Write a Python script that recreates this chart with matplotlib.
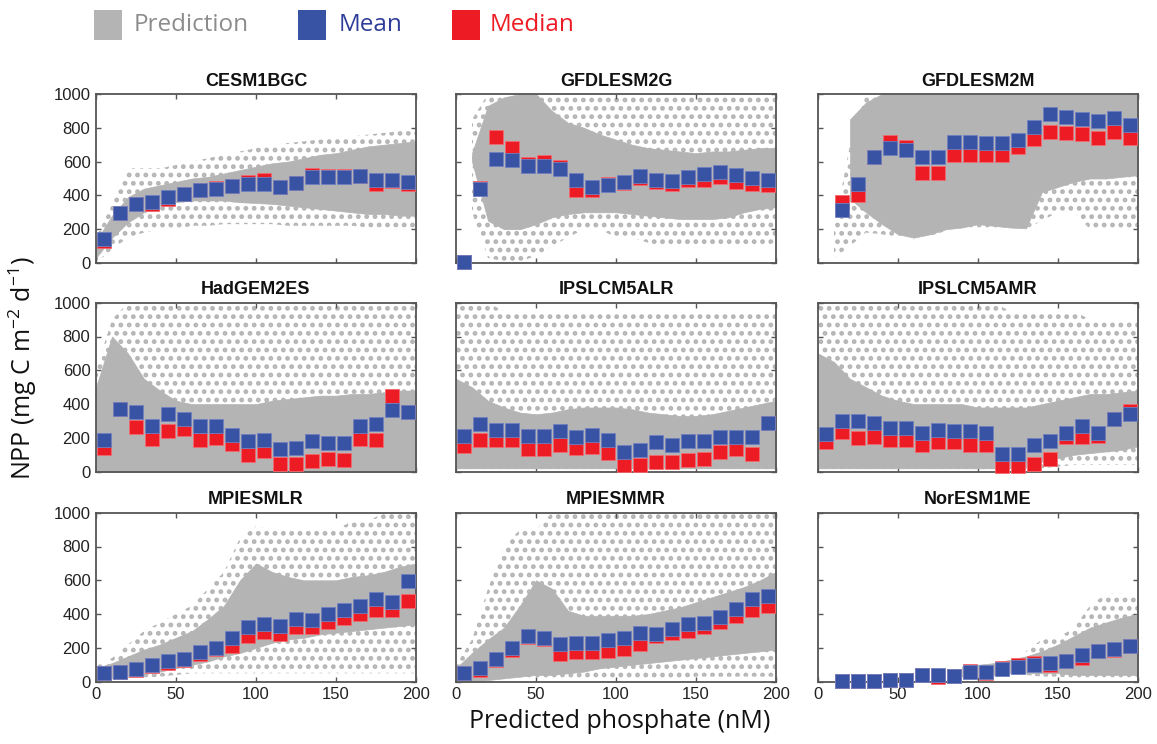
import numpy as np
import matplotlib
matplotlib.use("Agg")
import matplotlib.pyplot as plt
from matplotlib.patches import Rectangle

nan = np.nan
# ---------------- data ----------------
models = ["CESM1BGC", "GFDLESM2G", "GFDLESM2M",
          "HadGEM2ES", "IPSLCM5ALR", "IPSLCM5AMR",
          "MPIESMLR", "MPIESMMR", "NorESM1ME"]

bins20 = [5, 15, 25, 35, 45, 55, 65, 75, 85, 95, 105, 115, 125, 135, 145, 155, 165, 175, 185, 195]
bins19 = bins20[1:]
env_x = [0, 10, 20, 30, 40, 50, 60, 70, 80, 90, 100, 110, 120, 130, 140, 150, 160, 170, 180, 190, 200]

# binned mean / median NPP
CESM1BGC_mean = [140, 298, 352, 360, 391, 411, 431, 435, 455, 466, 466, 450, 474, 506, 510, 510, 514, 494, 494, 480]
CESM1BGC_median = [130, 298, 350, 348, 380, 410, 430, 445, 455, 480, 490, 450, 474, 520, 515, 515, 514, 470, 484, 470]
GFDLESM2G_mean = [5, 435, 615, 609, 575, 575, 555, 490, 450, 464, 480, 516, 490, 486, 510, 526, 540, 520, 504, 494]
GFDLESM2G_median = [5, 445, 747, 678, 585, 595, 570, 430, 430, 470, 472, 505, 480, 470, 490, 490, 510, 480, 470, 460]
GFDLESM2M_mean = [312, 470, 625, 678, 668, 625, 625, 717, 717, 708, 708, 727, 806, 881, 862, 850, 840, 860, 816]
GFDLESM2M_median = [360, 405, 625, 717, 684, 534, 534, 638, 638, 638, 638, 688, 731, 777, 767, 761, 737, 777, 737]
HadGEM2ES_mean = [186, 371, 351, 268, 341, 311, 272, 272, 218, 179, 186, 137, 143, 179, 169, 169, 272, 282, 365, 351]
HadGEM2ES_median = [143, 371, 262, 192, 242, 252, 186, 202, 163, 99, 123, 48, 48, 63, 73, 67, 192, 186, 450, 351]
IPSLCM5ALR_mean = [212, 282, 248, 248, 212, 212, 238, 208, 218, 186, 117, 127, 177, 159, 179, 179, 208, 208, 208, 290]
IPSLCM5ALR_median = [153, 188, 188, 188, 133, 133, 159, 139, 149, 113, 38, 38, 58, 58, 67, 77, 119, 133, 107, 290]
IPSLCM5AMR_mean = [226, 302, 302, 288, 258, 258, 228, 248, 238, 238, 228, 107, 107, 159, 179, 228, 272, 228, 311, 341]
IPSLCM5AMR_median = [173, 232, 198, 208, 188, 188, 157, 173, 173, 159, 157, 34, 34, 48, 77, 208, 208, 210, 311, 360]
MPIESMLR_mean = [51, 59, 78, 98, 120, 137, 173, 202, 261, 324, 343, 329, 373, 363, 398, 424, 447, 492, 473, 594]
MPIESMLR_median = [51, 59, 70, 90, 110, 130, 165, 195, 212, 271, 296, 280, 325, 324, 353, 378, 398, 427, 422, 476]
MPIESMMR_mean = [49, 80, 137, 200, 271, 261, 222, 231, 231, 247, 261, 290, 280, 310, 343, 349, 382, 431, 492, 510]
MPIESMMR_median = [49, 70, 128, 190, 262, 250, 163, 176, 176, 182, 192, 225, 270, 290, 300, 323, 353, 388, 424, 447]
NorESM1ME_mean = [5, 5, 5, 10, 10, 39, 39, 35, 55, 59, 75, 88, 100, 108, 120, 159, 182, 196, 212]
NorESM1ME_median = [5, 5, 5, 10, 10, 39, 30, 35, 63, 50, 82, 98, 110, 100, 120, 139, 182, 190, 212]

# prediction cloud envelopes (dense core, sparse outer)
CESM1BGC_core_lo = [30, 150, 240, 300, 340, 360, 370, 370, 370, 360, 355, 350, 340, 330, 320, 310, 300, 290, 290, 280, 280]
CESM1BGC_core_hi = [130, 280, 390, 440, 460, 480, 500, 510, 530, 550, 570, 590, 600, 620, 640, 650, 670, 690, 700, 710, 720]
CESM1BGC_sp_lo = [0, 80, 150, 180, 200, 200, 220, 220, 230, 230, 230, 230, 220, 220, 220, 220, 220, 210, 210, 210, 210]
CESM1BGC_sp_hi = [150, 350, 560, 560, 560, 580, 600, 620, 640, 660, 680, 700, 710, 720, 730, 740, 750, 760, 770, 780, 780]

GFDLESM2G_core_lo = [nan, 600, 250, 200, 200, 230, 270, 290, 300, 300, 300, 290, 280, 270, 260, 260, 260, 270, 300, 320, 330]
GFDLESM2G_core_hi = [nan, 650, 930, 980, 1000, 1000, 900, 830, 800, 760, 730, 700, 680, 670, 660, 650, 660, 660, 670, 680, 680]
GFDLESM2G_sp_lo = [nan, 300, 30, 10, 10, 40, 100, 150, 200, 200, 150, 150, 120, 100, 100, 100, 100, 100, 100, 100, 120]
GFDLESM2G_sp_hi = [nan, 850, 1000, 1000, 1000, 1000, 1000, 1000, 1000, 1000, 1000, 1000, 1000, 1000, 1000, 1000, 1000, 1000, 1000, 1000, 1000]

GFDLESM2M_core_lo = [nan, nan, 380, 300, 230, 170, 150, 170, 200, 210, 230, 220, 210, 205, 420, 450, 480, 500, 500, 510, 520]
GFDLESM2M_core_hi = [nan, nan, 850, 950, 1000, 1000, 1000, 1000, 1000, 1000, 1000, 1000, 1000, 1000, 1000, 1000, 1000, 1000, 1000, 1000, 1000]
GFDLESM2M_sp_lo = [nan, 30, 100, 180, 170, 150, 140, 160, 190, 200, 200, 200, 200, 200, 250, 300, 300, 200, 200, 200, 200]
GFDLESM2M_sp_hi = [nan, 200, 700, 1000, 1000, 1000, 1000, 1000, 1000, 1000, 1000, 1000, 1000, 1000, 1000, 1000, 1000, 1000, 1000, 1000, 1000]

HadGEM2ES_core_lo = [0] * 21
HadGEM2ES_core_hi = [500, 800, 700, 550, 480, 420, 400, 400, 400, 400, 400, 420, 430, 440, 450, 450, 460, 460, 470, 480, 480]
HadGEM2ES_sp_lo = [0] * 21
HadGEM2ES_sp_hi = [600, 900, 1000, 1000, 1000, 1000, 1000, 1000, 1000, 1000, 1000, 1000, 1000, 1000, 1000, 1000, 1000, 1000, 1000, 1000, 1000]

IPSLCM5ALR_core_lo = [20] * 21
IPSLCM5ALR_core_hi = [550, 500, 420, 380, 350, 340, 350, 370, 380, 380, 380, 370, 350, 340, 330, 330, 340, 360, 380, 400, 420]
IPSLCM5ALR_sp_lo = [0] * 21
IPSLCM5ALR_sp_hi = [1000, 1000, 1000, 950, 950, 950, 950, 950, 950, 950, 950, 950, 950, 950, 950, 950, 950, 950, 950, 950, 950]

IPSLCM5AMR_core_lo = [20, 20, 20, 20, 20, 20, 20, 20, 20, 20, 20, 20, 20, 30, 60, 80, 100, 110, 120, 130, 150]
IPSLCM5AMR_core_hi = [700, 650, 550, 500, 450, 420, 400, 400, 400, 400, 380, 380, 380, 380, 400, 420, 440, 460, 460, 470, 480]
IPSLCM5AMR_sp_lo = [0, 0, 0, 0, 0, 0, 0, 0, 0, 0, 0, 0, 0, 10, 20, 30, 40, 40, 40, 40, 40]
IPSLCM5AMR_sp_hi = [1000, 1000, 1000, 1000, 1000, 1000, 1000, 1000, 1000, 1000, 1000, 1000, 950, 950, 950, 950, 950, 900, 900, 900, 900]

MPIESMLR_core_lo = [0, 20, 30, 45, 60, 80, 100, 120, 150, 170, 200, 230, 250, 260, 280, 290, 300, 310, 320, 330, 340]
MPIESMLR_core_hi = [80, 110, 150, 190, 220, 260, 300, 370, 450, 600, 700, 650, 620, 600, 600, 600, 620, 630, 650, 680, 700]
MPIESMLR_sp_lo = [0, 0, 10, 20, 30, 40, 50, 50, 50, 50, 50, 50, 50, 50, 50, 50, 50, 50, 50, 50, 50]
MPIESMLR_sp_hi = [100, 140, 220, 300, 350, 400, 450, 550, 650, 850, 920, 900, 900, 900, 900, 900, 950, 950, 1000, 1000, 1000]

MPIESMMR_core_lo = [0, 0, 10, 20, 30, 40, 40, 50, 60, 80, 90, 100, 110, 120, 130, 140, 150, 160, 170, 180, 190]
MPIESMMR_core_hi = [80, 170, 250, 320, 450, 600, 550, 420, 390, 390, 390, 390, 400, 420, 440, 470, 500, 530, 560, 600, 650]
MPIESMMR_sp_lo = [0, 0, 0, 10, 20, 20, 20, 20, 20, 20, 20, 20, 20, 20, 20, 30, 30, 30, 30, 30, 30]
MPIESMMR_sp_hi = [100, 250, 550, 800, 900, 900, 1000, 1000, 1000, 1000, 1000, 1000, 1000, 1000, 1000, 1000, 1000, 1000, 1000, 1000, 1000]

NorESM1ME_core_lo = [nan] * 9 + [30, 30, 40, 50, 50, 50, 50, 40, 40, 40, 40, 40]
NorESM1ME_core_hi = [nan] * 9 + [90, 100, 110, 130, 150, 180, 220, 270, 320, 350, 380, 400]
NorESM1ME_sp_lo = [nan] * 13 + [40, 30, 30, 20, 20, 20, 20, 30]
NorESM1ME_sp_hi = [nan] * 13 + [180, 250, 260, 320, 450, 520, 520, 500]

xticks = [0, 50, 100, 150, 200]
yticks = [0, 200, 400, 600, 800, 1000]

panels = [
    (CESM1BGC_mean, CESM1BGC_median, bins20, CESM1BGC_core_lo, CESM1BGC_core_hi, CESM1BGC_sp_lo, CESM1BGC_sp_hi),
    (GFDLESM2G_mean, GFDLESM2G_median, bins20, GFDLESM2G_core_lo, GFDLESM2G_core_hi, GFDLESM2G_sp_lo, GFDLESM2G_sp_hi),
    (GFDLESM2M_mean, GFDLESM2M_median, bins19, GFDLESM2M_core_lo, GFDLESM2M_core_hi, GFDLESM2M_sp_lo, GFDLESM2M_sp_hi),
    (HadGEM2ES_mean, HadGEM2ES_median, bins20, HadGEM2ES_core_lo, HadGEM2ES_core_hi, HadGEM2ES_sp_lo, HadGEM2ES_sp_hi),
    (IPSLCM5ALR_mean, IPSLCM5ALR_median, bins20, IPSLCM5ALR_core_lo, IPSLCM5ALR_core_hi, IPSLCM5ALR_sp_lo, IPSLCM5ALR_sp_hi),
    (IPSLCM5AMR_mean, IPSLCM5AMR_median, bins20, IPSLCM5AMR_core_lo, IPSLCM5AMR_core_hi, IPSLCM5AMR_sp_lo, IPSLCM5AMR_sp_hi),
    (MPIESMLR_mean, MPIESMLR_median, bins20, MPIESMLR_core_lo, MPIESMLR_core_hi, MPIESMLR_sp_lo, MPIESMLR_sp_hi),
    (MPIESMMR_mean, MPIESMMR_median, bins20, MPIESMMR_core_lo, MPIESMMR_core_hi, MPIESMMR_sp_lo, MPIESMMR_sp_hi),
    (NorESM1ME_mean, NorESM1ME_median, bins19, NorESM1ME_core_lo, NorESM1ME_core_hi, NorESM1ME_sp_lo, NorESM1ME_sp_hi),
]

# ---------------- style ----------------
GRAY = "#b4b4b4"
BLUE = "#3953a4"
RED = "#ed1c24"
W, H = 1157, 744

plt.rcParams["hatch.linewidth"] = 2.2
plt.rcParams["mathtext.fontset"] = "custom"
plt.rcParams["mathtext.rm"] = "Open Sans"
plt.rcParams["mathtext.it"] = "Open Sans"
plt.rcParams["mathtext.bf"] = "Open Sans"

fig = plt.figure(figsize=(W / 100, H / 100), dpi=100)

lefts = [96, 456, 818]
tops = [94, 302.7, 512.7]
aw, ah = 320, 169

for i, (mean, med, bx, clo, chi, slo, shi) in enumerate(panels):
    r, c = divmod(i, 3)
    ax = fig.add_axes([lefts[c] / W, 1 - (tops[r] + ah) / H, aw / W, ah / H])
    ex = np.array(env_x, float)
    ax.fill_between(ex, np.array(slo, float), np.array(shi, float), facecolor="none",
                    edgecolor=GRAY, hatch="..", linewidth=0, zorder=1)
    ax.fill_between(ex, np.array(clo, float), np.array(chi, float), facecolor=GRAY,
                    edgecolor=GRAY, linewidth=0.5, zorder=2)
    ax.plot(bx, med, "s", ms=9.8, mfc=RED, mec="#f26b70", mew=0.6, clip_on=False, zorder=5)
    ax.plot(bx, mean, "s", ms=9.8, mfc=BLUE, mec="#7080c0", mew=0.6, clip_on=False, zorder=6)
    ax.set_xlim(0, 200)
    ax.set_ylim(0, 1000)
    ax.set_xticks(xticks)
    ax.set_yticks(yticks)
    ax.tick_params(direction="in", length=3.5, width=1.0, top=True, right=True,
                   color="#555555", labelsize=12, labelcolor="#222222", pad=4)
    for lab in ax.get_xticklabels() + ax.get_yticklabels():
        lab.set_fontfamily("Liberation Sans")
    if c != 0:
        ax.set_yticklabels([])
    if r != 2:
        ax.set_xticklabels([])
    for sp in ax.spines.values():
        sp.set_color("#555555")
        sp.set_linewidth(1.3)
    ax.set_title(models[i], fontsize=13, fontweight="bold", family="Liberation Sans",
                 color="#111111", pad=6)

# axis labels
fig.text(620 / W, 1 - 721 / H, "Predicted phosphate (nM)", ha="center", va="center",
         fontsize=18, family="Open Sans", color="#111111")
fig.text(23 / W, 1 - 368 / H, r"NPP (mg C m$^{\mathrm{-2}}$ d$^{\mathrm{-1}}$)", ha="center",
         va="center", rotation=90, fontsize=18, family="Open Sans", color="#111111")

# legend
leg_items = [(94, 134, GRAY, "#8c8c8c", "Prediction"),
             (298, 339, BLUE, "#2e3d99", "Mean"),
             (452, 490, RED, RED, "Median")]
for sx, tx, fc, tc, label in leg_items:
    fig.add_artist(Rectangle((sx / W, 1 - 40 / H), 28 / W, 30 / H, transform=fig.transFigure,
                             facecolor=fc, edgecolor="none"))
    fig.text(tx / W, 1 - 25 / H, label, ha="left", va="center", fontsize=17.5,
             family="Open Sans", color=tc)

fig.savefig("out.png", dpi=100)
